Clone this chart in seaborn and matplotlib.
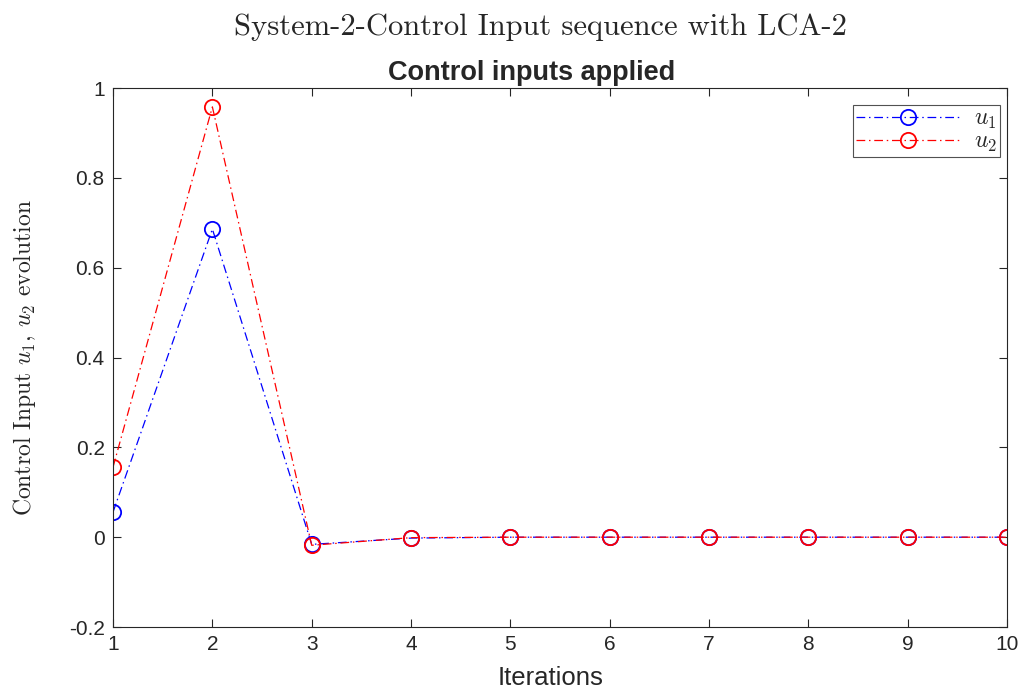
import matplotlib
matplotlib.use("Agg")
import matplotlib.pyplot as plt
import seaborn as sns
import pandas as pd

iterations = [1, 2, 3, 4, 5, 6, 7, 8, 9, 10]
u1 = [0.056, 0.686, -0.016, -0.002, 0.0, 0.0, 0.0, 0.0, 0.0, 0.0]
u2 = [0.156, 0.958, -0.018, -0.001, 0.0, 0.0, 0.0, 0.0, 0.0, 0.0]
y_ticks = [-0.2, 0, 0.2, 0.4, 0.6, 0.8, 1]
y_tick_labels = ["-0.2", "0", "0.2", "0.4", "0.6", "0.8", "1"]

sns.set_style("white")
plt.rcParams["font.family"] = ["Liberation Sans", "DejaVu Sans"]
plt.rcParams["mathtext.fontset"] = "cm"

df = pd.DataFrame({"it": iterations, "u1": u1, "u2": u2})

fig = plt.figure(figsize=(10.23, 6.93), dpi=100)
ax = fig.add_axes([0.1105, 0.0952, 0.8739, 0.7778])

dash = (7, 3, 1.2, 3)
sns.lineplot(data=df, x="it", y="u1", ax=ax, color="#0000ff", marker="o",
             markersize=11, markerfacecolor="none", markeredgecolor="#0000ff",
             markeredgewidth=1.3, linewidth=0.9, label=r"$u_1$")
sns.lineplot(data=df, x="it", y="u2", ax=ax, color="#ff0000", marker="o",
             markersize=11, markerfacecolor="none", markeredgecolor="#ff0000",
             markeredgewidth=1.3, linewidth=0.9, label=r"$u_2$")
for line in ax.get_lines():
    line.set_linestyle((0, dash))

ax.set_xlim(1, 10)
ax.set_ylim(-0.2, 1)
ax.set_xticks(iterations)
ax.set_xticklabels([str(i) for i in iterations])
ax.set_yticks(y_ticks)
ax.set_yticklabels(y_tick_labels)
ax.tick_params(direction="in", length=6, width=0.8, color="#262626",
               labelsize=15, labelcolor="#262626", top=True, right=True,
               bottom=True, left=True, pad=6)
for s in ax.spines.values():
    s.set_color("#262626")
    s.set_linewidth(0.8)

ax.set_xlabel("Iterations", fontsize=18.5, color="#262626", labelpad=4)
ax.xaxis.set_label_coords(0.489, -0.072)
ax.set_ylabel(r"Control Input $u_1$, $u_2$ evolution", fontsize=17,
              family="cmr10", labelpad=22)
ax.set_title("Control inputs applied", fontsize=19.5, fontweight="bold",
             x=0.468, pad=6)
fig.suptitle("System-2-Control Input sequence with LCA-2", fontsize=22,
             family="cmr10", x=0.528, y=0.98)

leg = ax.legend(loc="upper right", bbox_to_anchor=(0.992, 0.968), fontsize=17,
                frameon=True, fancybox=False, edgecolor="#262626",
                handlelength=4.4, borderpad=0.12, labelspacing=0.0,
                handletextpad=0.6, borderaxespad=0)
leg.get_frame().set_linewidth(0.8)

fig.savefig("out.png", dpi=100)
